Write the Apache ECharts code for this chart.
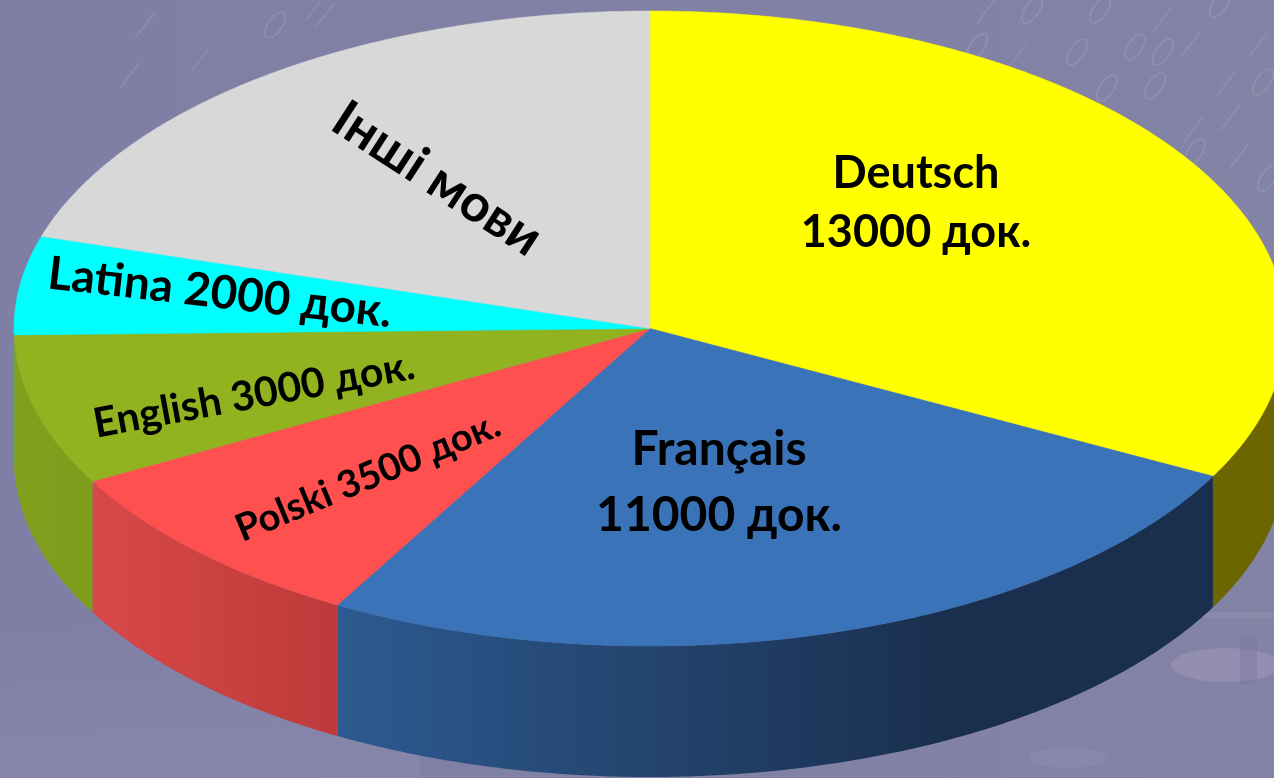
<!DOCTYPE html>
<html>
<head>
<meta charset="utf-8">
<style>
html, body { margin: 0; padding: 0; background: #8080a4; overflow: hidden; }
#main { width: 1274px; height: 778px; }
</style>
<script src="https://cdn.jsdelivr.net/npm/echarts@6/dist/echarts.min.js"></script>
</head>
<body>
<div id="main"></div>
<script>
var names = ['Deutsch', 'Français', 'Polski', 'English', 'Latina', 'Інші мови'];
// counts printed on the slices
var docs = [13000, 11000, 3500, 3000, 2000, null];
// slice sizes as measured from the arcs in the picture (Français is drawn smaller than its label says)
var sliceSizes = [13000, 10125, 3510, 3050, 1990, 8075];
var topColors = ['#ffff00', '#3a73b8', '#ff5050', '#92b320', '#00ffff', '#d8d8d8'];
var sideLeft = ['#6b6600', '#2d5a90', '#d94848', '#82a01e', '#00b0b0', '#989898'];
var sideRight = ['#6b6600', '#1a2f4e', '#bd3a3a', '#7e9c1c', '#00b0b0', '#989898'];

// pie geometry
var cx = 650, cy = 328.5, rx = 636, ry = 317.5, depth = 131;

// label placement per slice
var labelPos = [
	{ x: 916, y: 203, rot: 0, size: 45, lineHeight: 59 },
	{ x: 719, y: 483, rot: 0, size: 48, lineHeight: 66 },
	{ x: 368, y: 477, rot: 22.5, size: 38 },
	{ x: 254, y: 395, rot: 10.5, size: 41 },
	{ x: 220, y: 293, rot: -6.5, size: 46 },
	{ x: 437, y: 179, rot: -33, size: 52 }
];

// faint binary digits and swooshes of the slide background
var bgZeros = [[1032, 10], [1100, 10], [1220, 4], [977, 47], [1077, 52], [1135, 47], [1163, 52], [1107, 88], [1155, 86], [1263, 82], [1195, 152], [1268, 178], [275, 25]];
var bgOnes = [[987, 10], [1162, 20], [1190, 45], [1018, 55], [1225, 85], [1193, 130], [1230, 118], [1240, 155], [1258, 45], [315, 8], [325, 15], [145, 25], [200, 60], [130, 75]];

var total = sliceSizes.reduce(function (a, b) { return a + b; }, 0);
var starts = [];
sliceSizes.reduce(function (sum, v, i) { starts[i] = sum; return sum + v; }, 0);

function pt(deg, dy) {
	var a = deg * Math.PI / 180;
	return [cx + rx * Math.sin(a), cy - ry * Math.cos(a) + (dy || 0)];
}

function arcPoints(a0, a1, dy) {
	var pts = [];
	var n = Math.max(2, Math.ceil(Math.abs(a1 - a0) * 2));
	for (var i = 0; i <= n; i++) {
		pts.push(pt(a0 + (a1 - a0) * i / n, dy));
	}
	return pts;
}

function renderSlice(params, api) {
	var i = params.dataIndex;
	var a0 = api.value(1) / total * 360;
	var a1 = a0 + api.value(2) / total * 360;
	var children = [];
	// side wall only on the front half
	var s0 = Math.max(a0, 90), s1 = Math.min(a1, 270);
	if (s1 > s0) {
		var top = arcPoints(s0, s1, 0);
		var bottom = arcPoints(s1, s0, depth);
		var xr = top[0][0], xl = top[top.length - 1][0];
		// the blue wall is already at its darkest well before its right end
		if (i === 1) {
			xr = xl + (xr - xl) * 0.7;
		}
		children.push({
			type: 'polygon',
			z2: 1,
			shape: { points: top.concat(bottom) },
			style: {
				fill: new echarts.graphic.LinearGradient(xl, 0, xr, 0, [
					{ offset: 0, color: sideLeft[i] },
					{ offset: 1, color: sideRight[i] }
				], true)
			}
		});
	}
	children.push({
		type: 'polygon',
		z2: 5,
		shape: { points: [[cx, cy]].concat(arcPoints(a0, a1, 0)) },
		style: { fill: topColors[i], stroke: topColors[i], lineWidth: 0.5 }
	});
	var p = labelPos[i];
	var txt = api.value(3);
	if (i < 2) {
		txt = names[i] + '\n' + docs[i] + ' док.';
	} else if (docs[i]) {
		txt = names[i] + ' ' + docs[i] + ' док.';
	}
	children.push({
		type: 'text',
		z2: 10,
		x: p.x,
		y: p.y,
		rotation: p.rot * Math.PI / 180,
		style: {
			text: txt,
			x: 0,
			y: 0,
			align: 'center',
			verticalAlign: 'middle',
			fill: '#000',
			font: 'bold ' + p.size + 'px Lato, "Noto Sans", sans-serif',
			lineHeight: p.lineHeight
		}
	});
	return { type: 'group', children: children };
}

function backgroundGraphics() {
	var els = [];
	bgZeros.forEach(function (d) {
		els.push({
			type: 'ellipse', z: -5, x: d[0], y: d[1], rotation: -0.6,
			shape: { cx: 0, cy: 0, rx: 7, ry: 15 },
			style: { fill: 'none', stroke: 'rgba(170,175,205,0.28)', lineWidth: 2 }
		});
	});
	bgOnes.forEach(function (d) {
		els.push({
			type: 'line', z: -5, x: d[0], y: d[1], rotation: -0.65,
			shape: { x1: 0, y1: -16, x2: 0, y2: 16 },
			style: { stroke: 'rgba(170,175,205,0.25)', lineWidth: 2 }
		});
	});
	// lower right reflection and lighter band along the bottom
	els.push({
		type: 'ellipse', z: -5, shape: { cx: 1226, cy: 665, rx: 55, ry: 17 },
		style: { fill: 'rgba(165,155,190,0.5)' }
	});
	els.push({
		type: 'rect', z: -5, shape: { x: 1240, y: 635, width: 17, height: 50 },
		style: { fill: 'rgba(125,120,160,0.5)' }
	});
	els.push({
		type: 'rect', z: -6, shape: { x: 1170, y: 612, width: 104, height: 6 },
		style: { fill: 'rgba(160,160,190,0.25)' }
	});
	els.push({
		type: 'rect', z: -6, shape: { x: 0, y: 620, width: 420, height: 158 },
		style: {
			fill: new echarts.graphic.LinearGradient(0, 0, 0, 1, [
				{ offset: 0, color: 'rgba(150,150,185,0)' },
				{ offset: 0.7, color: 'rgba(150,150,185,0.22)' },
				{ offset: 1, color: 'rgba(150,150,185,0.3)' }
			])
		}
	});
	els.push({
		type: 'ellipse', z: -5, shape: { cx: 1068, cy: 758, rx: 38, ry: 10 },
		style: { fill: 'rgba(150,150,185,0.35)' }
	});
	return els;
}

var myChart = echarts.init(document.getElementById('main'));

var option = {
	animation: false,
	backgroundColor: new echarts.graphic.LinearGradient(0, 0, 1, 0, [
		{ offset: 0, color: '#7f7ea4' },
		{ offset: 1, color: '#8383a6' }
	]),
	graphic: { elements: backgroundGraphics() },
	dataset: {
		source: names.map(function (n, i) { return [i, starts[i], sliceSizes[i], n]; })
	},
	series: [{
		type: 'custom',
		coordinateSystem: 'none',
		renderItem: renderSlice,
		encode: { itemName: 3 },
		silent: true
	}]
};

myChart.setOption(option);
</script>
</body>
</html>
